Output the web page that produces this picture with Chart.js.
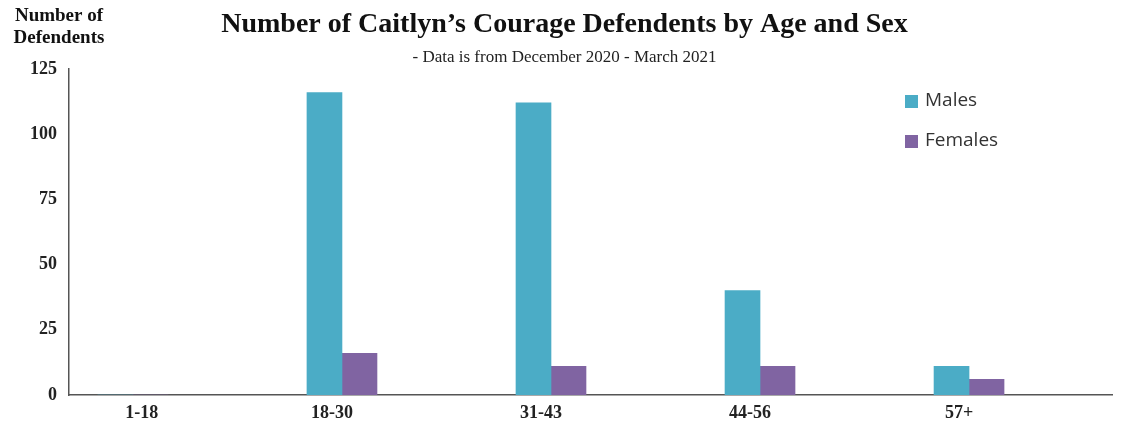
<!DOCTYPE html>
<html lang="en">
<head>
<meta charset="UTF-8" />
<title>Number of Caitlyn's Courage Defendents by Age and Sex</title>
<script src="https://cdn.jsdelivr.net/npm/chart.js"></script>
<style>
  html, body { margin: 0; padding: 0; background: #fff; }
  #wrap { width: 1129px; height: 425px; position: relative; }
</style>
</head>
<body>
<div id="wrap"><canvas id="myChart"></canvas></div>

<script>
  // chart data
  const ageGroups = ['1-18', '18-30', '31-43', '44-56', '57+'];
  const males = [0, 116, 112, 40, 11];
  const females = [0, 16, 11, 11, 6];
  const yTicks = [0, 25, 50, 75, 100, 125];
  const yAxisTitle = ['Number of', 'Defendents'];

  const serif = '"Liberation Serif", "Times New Roman", serif';

  // y axis title in the top-left corner + legend on the right
  const extrasPlugin = {
    id: 'extras',
    afterDraw(chart) {
      const ctx = chart.ctx;
      const area = chart.chartArea;
      ctx.save();
      ctx.fillStyle = '#111';
      ctx.font = 'bold 19px ' + serif;
      ctx.textAlign = 'center';
      ctx.textBaseline = 'middle';
      yAxisTitle.forEach((line, i) => ctx.fillText(line, 59, 16 + i * 22));

      ctx.font = '19px "Open Sans", sans-serif';
      ctx.textAlign = 'left';
      chart.data.datasets.forEach((ds, i) => {
        const y = 101 + i * 40;
        const x = area.right - 207;
        ctx.fillStyle = ds.backgroundColor;
        ctx.fillRect(x, y - 6, 13, 13);
        ctx.fillStyle = '#333';
        ctx.fillText(ds.label, x + 20, y);
      });
      ctx.restore();
    }
  };

  const ctx = document.getElementById('myChart').getContext('2d');
  const myChart = new Chart(ctx, {
    type: 'bar',
    data: {
      datasets: [
        {
          label: 'Males',
          data: males.map((v, i) => ({ x: i, y: v })),
          backgroundColor: '#4BACC6'
        },
        {
          label: 'Females',
          data: females.map((v, i) => ({ x: i, y: v })),
          backgroundColor: '#8064A2'
        }
      ]
    },
    options: {
      responsive: true,
      maintainAspectRatio: false,
      animation: false,
      barThickness: 35,
      layout: { padding: { left: 17, right: 17, top: 0, bottom: 0 } },
      scales: {
        x: {
          type: 'linear',
          offset: false,
          min: -0.306,
          max: 4.684,
          grid: { display: false, drawTicks: false },
          border: { color: '#555', width: 1.5 },
          afterBuildTicks: scale => {
            // first label sits a little further right in the original
            scale.ticks = ageGroups.map((_, i) => ({ value: i === 0 ? i + 0.09 : i }));
          },
          afterFit: scale => { scale.height = 30; },
          ticks: {
            autoSkip: false,
            maxRotation: 0,
            padding: 8,
            labelOffset: -10,
            color: '#222',
            font: { family: serif, size: 18, weight: 'bold' },
            callback: val => ageGroups[Math.round(val)] ?? ''
          }
        },
        y: {
          min: 0,
          max: 125,
          grid: { display: false, drawTicks: false },
          border: { color: '#555', width: 1.5 },
          afterBuildTicks: scale => {
            scale.ticks = yTicks.map(v => ({ value: v }));
          },
          afterFit: scale => { scale.width = 52; },
          ticks: {
            padding: 12,
            color: '#222',
            font: { family: serif, size: 18, weight: 'bold' }
          }
        }
      },
      plugins: {
        legend: { display: false },
        tooltip: { enabled: false },
        title: {
          display: true,
          text: 'Number of Caitlyn\u2019s Courage Defendents by Age and Sex',
          color: '#111',
          font: { family: serif, size: 28, weight: 'bold' },
          padding: { top: 8, bottom: 6 }
        },
        subtitle: {
          display: true,
          text: '- Data is from December 2020 - March 2021',
          color: '#222',
          font: { family: serif, size: 17 },
          padding: { top: 0, bottom: 1 }
        }
      }
    },
    plugins: [extrasPlugin]
  });
</script>
</body>
</html>
